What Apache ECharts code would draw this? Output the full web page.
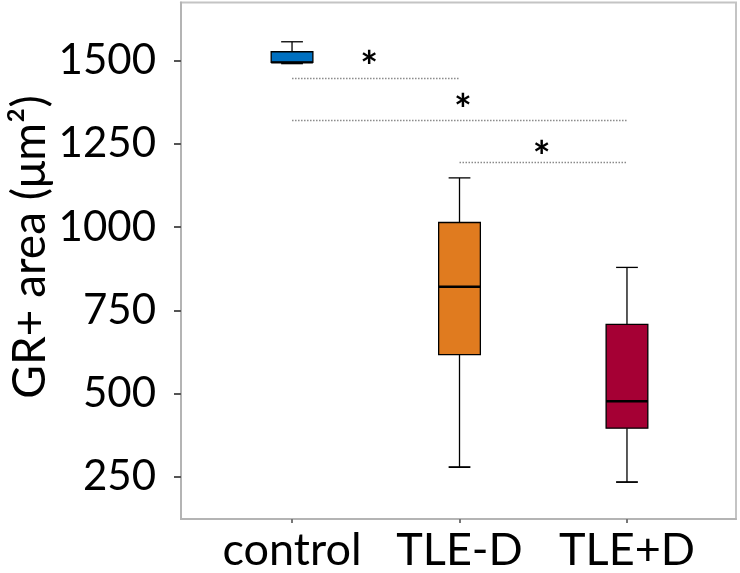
<!DOCTYPE html>
<html>
<head>
<meta charset="utf-8">
<script src="https://cdn.jsdelivr.net/npm/echarts@6/dist/echarts.min.js"></script>
<style>
html,body{margin:0;padding:0;background:#fff;}
#c{width:740px;height:573px;}
</style>
</head>
<body>
<div id="c"></div>
<script>
// ---- data ----
var categories = ['control', 'TLE-D', 'TLE+D'];
var whiskerLow = [1492, 279, 234];
var quart1 = [1495, 617, 396];
var medians = [1495, 821, 477];
var quart3 = [1527, 1014, 708];
var whiskerHigh = [1557, 1148, 879];
var yTickValues = [250, 500, 750, 1000, 1250, 1500];
var sigStart = ['control', 'control', 'TLE-D'];
var sigEnd = ['TLE-D', 'TLE+D', 'TLE+D'];
var sigLevel = [1447, 1322, 1195];
var starX = [1.46, 2.02, 2.49];
var starY = [1514, 1384, 1244];
var starText = ['*', '*', '*'];

// ---- styles ----
var boxColors = ['#0070C0', '#E07B1F', '#A50034'];
var FONT = 'Lato';
var BOX_W = 0.249;
var CAP_W = 0.13;
var STAR_SIZE = 42;

function pos(name) { return categories.indexOf(name) + 1; }

var boxData = categories.map(function (c, i) {
  return [i + 1, whiskerLow[i], quart1[i], medians[i], quart3[i], whiskerHigh[i]];
});
var sigData = sigStart.map(function (s, i) {
  return [pos(s), pos(sigEnd[i]), sigLevel[i], starX[i], starY[i]];
});

var chart = echarts.init(document.getElementById('c'), null, {renderer: 'canvas'});
chart.setOption({
  animation: false,
  backgroundColor: '#fff',
  grid: {left: 181, right: 4, top: 2.5, bottom: 52.5, show: true, borderColor: '#c4c4c4', borderWidth: 2},
  xAxis: {
    type: 'value', min: 0.337, max: 3.651,
    axisLine: {show: true, lineStyle: {color: '#b4b4b4', width: 2}},
    axisTick: {show: true, length: 4, customValues: [1, 2, 3], lineStyle: {color: '#777', width: 2}},
    axisLabel: {show: true, customValues: [1, 2, 3], margin: 9,
      formatter: function (v) { return categories[Math.round(v) - 1] || ''; },
      color: '#000', fontFamily: FONT, fontSize: 45},
    splitLine: {show: false}
  },
  yAxis: {
    type: 'value', min: 123, max: 1675,
    axisLine: {show: true, lineStyle: {color: '#b4b4b4', width: 2}},
    axisTick: {show: true, length: 7, customValues: yTickValues, lineStyle: {color: '#555', width: 2}},
    axisLabel: {show: true, customValues: yTickValues, margin: 25, color: '#000', fontFamily: FONT, fontSize: 42,
      formatter: function (v) { return String(v); }},
    splitLine: {show: false}
  },
  graphic: [{
    type: 'text', x: 30, y: 247, rotation: Math.PI / 2,
    style: {text: 'GR+ area (\u03bcm\u00b2)', fontFamily: FONT, fontSize: 46, fill: '#000', align: 'center', verticalAlign: 'middle'}
  }],
  series: [{
    type: 'custom',
    data: sigData,
    renderItem: function (params, api) {
      var a = api.coord([api.value(0), api.value(2)]);
      var b = api.coord([api.value(1), api.value(2)]);
      var s = api.coord([api.value(3), api.value(4)]);
      var y = Math.round(a[1]) + 0.5;
      return {type: 'group', children: [
        {type: 'line', shape: {x1: a[0], y1: y, x2: b[0], y2: y},
          style: {stroke: '#8a8a8a', lineWidth: 1.6, lineDash: [1.5, 1.5]}},
        {type: 'text', x: s[0], y: s[1] + STAR_SIZE * 0.3,
          style: {text: starText[params.dataIndex], fontFamily: FONT, fontSize: STAR_SIZE, fontWeight: 'bold', fill: '#000', align: 'center', verticalAlign: 'middle'}}
      ]};
    }
  }, {
    type: 'custom',
    data: boxData,
    renderItem: function (params, api) {
      var x = api.value(0);
      var lo = api.coord([x, api.value(1)]);
      var q1 = api.coord([x, api.value(2)]);
      var md = api.coord([x, api.value(3)]);
      var q3 = api.coord([x, api.value(4)]);
      var hi = api.coord([x, api.value(5)]);
      var bw = api.size([BOX_W, 0])[0];
      var cw = api.size([CAP_W, 0])[0];
      var cx = lo[0];
      var ls = {stroke: '#000', lineWidth: 1.3};
      return {type: 'group', children: [
        {type: 'line', shape: {x1: cx, y1: hi[1], x2: cx, y2: q3[1]}, style: ls},
        {type: 'line', shape: {x1: cx, y1: q1[1], x2: cx, y2: lo[1]}, style: ls},
        {type: 'line', shape: {x1: cx - cw / 2, y1: hi[1], x2: cx + cw / 2, y2: hi[1]}, style: ls},
        {type: 'line', shape: {x1: cx - cw / 2, y1: lo[1], x2: cx + cw / 2, y2: lo[1]}, style: {stroke: '#000', lineWidth: 1.8}},
        {type: 'rect', shape: {x: cx - bw / 2, y: q3[1], width: bw, height: q1[1] - q3[1]},
          style: {fill: boxColors[params.dataIndex], stroke: '#000', lineWidth: 1.3}},
        {type: 'line', shape: {x1: cx - bw / 2, y1: md[1], x2: cx + bw / 2, y2: md[1]}, style: {stroke: '#000', lineWidth: 2.4}}
      ]};
    }
  }]
});
</script>
</body>
</html>
